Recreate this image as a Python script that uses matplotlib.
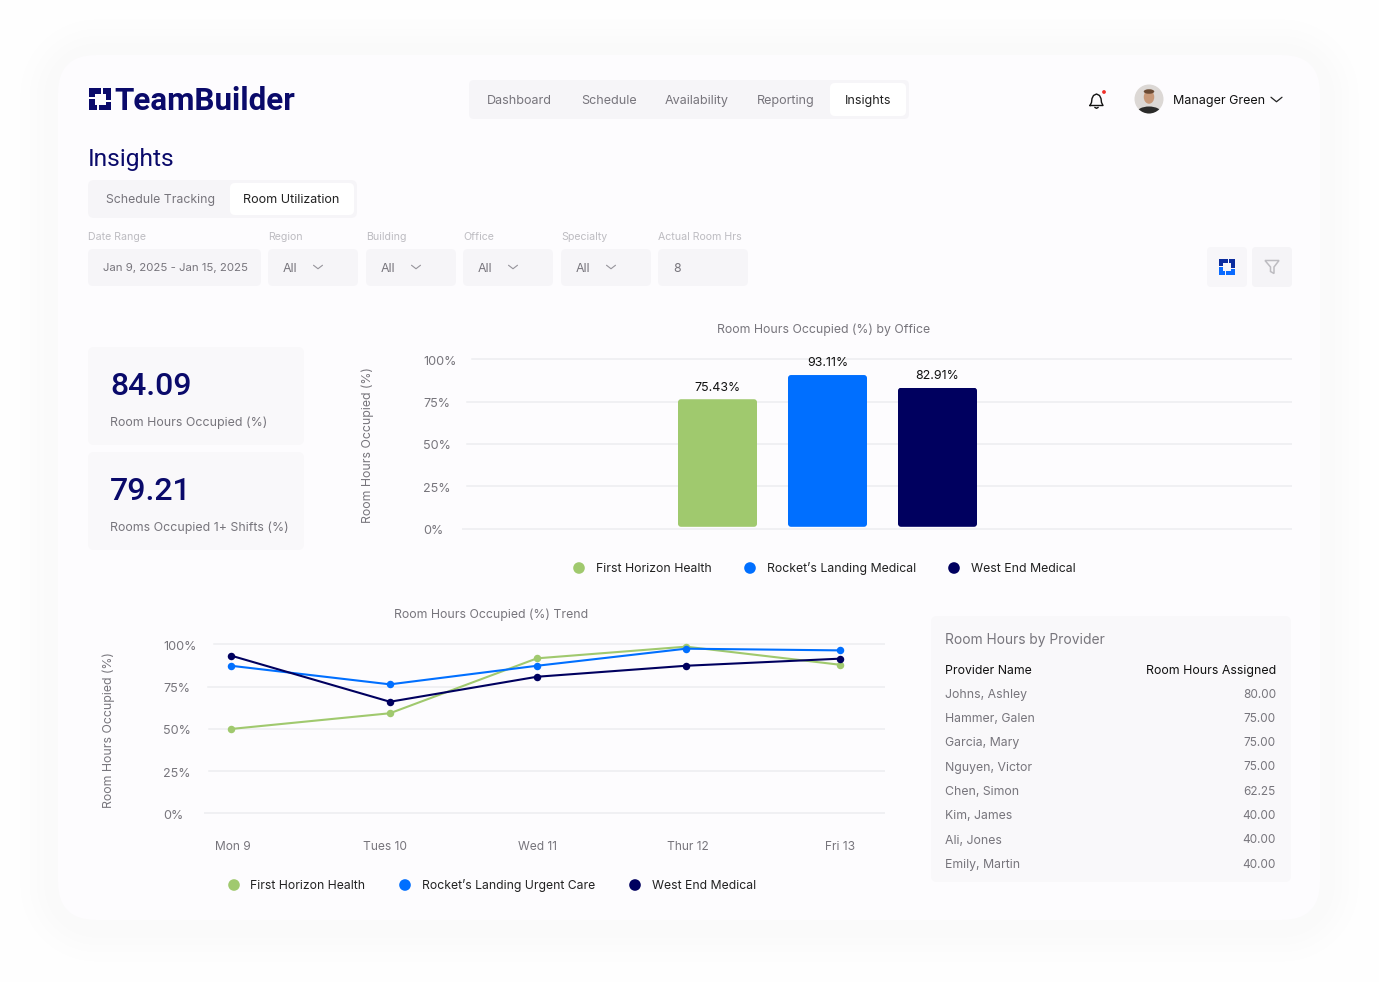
import numpy as np
import matplotlib
matplotlib.use("Agg")
import matplotlib.pyplot as plt
from matplotlib.patches import FancyBboxPatch, Circle, Polygon, Ellipse
from matplotlib.transforms import ScaledTranslation

plt.rcParams['font.family'] = ['Inter', 'DejaVu Sans']

# ---------- data ----------
nav_items = ["Dashboard", "Schedule", "Availability", "Reporting", "Insights"]
tabs = ["Schedule Tracking", "Room Utilization"]
filter_labels = ["Date Range", "Region", "Building", "Office", "Specialty", "Actual Room Hrs"]
filter_values = ["Jan 9, 2025 - Jan 15, 2025", "All", "All", "All", "All", "8"]

kpi_values = ["84.09", "79.21"]
kpi_labels = ["Room Hours Occupied (%)", "Rooms Occupied 1+ Shifts (%)"]

offices = ["First Horizon Health", "Rocket\u2019s Landing Medical", "West End Medical"]
bar_heights = [76.4, 90.7, 83.2]
bar_labels = ["75.43%", "93.11%", "82.91%"]
pct_ticks = [0, 25, 50, 75, 100]
pct_labels = ["0%", "25%", "50%", "75%", "100%"]

days = ["Mon 9", "Tues 10", "Wed 11", "Thur 12", "Fri 13"]
day_ticks = [0.013, 1.011, 2.01, 3.0, 4.0]
day_points = [0.0, 1.044, 2.01, 2.988, 4.0]
trend_first_horizon = [49.9, 59.2, 91.7, 98.6, 87.9]
trend_rockets = [87.3, 76.3, 87.3, 97.4, 96.4]
trend_west_end = [93.3, 66.0, 80.8, 87.3, 91.5]
trend_names = ["First Horizon Health", "Rocket\u2019s Landing Urgent Care", "West End Medical"]

providers = ["Johns, Ashley", "Hammer, Galen", "Garcia, Mary", "Nguyen, Victor",
             "Chen, Simon", "Kim, James", "Ali, Jones", "Emily, Martin"]
provider_hours = [80.00, 75.00, 75.00, 75.00, 62.25, 40.00, 40.00, 40.00]

# ---------- style ----------
W, H = 1379, 982
GREEN, BLUE, NAVY = "#A0C96E", "#006FFF", "#00005F"
INK = "#0A0A6A"
GREY = "#77757C"
PANEL = "#F9F8FA"
GRID = "#EDEDF0"

fig = plt.figure(figsize=(W / 100, H / 100), dpi=100, facecolor="white")
bg = fig.add_axes([0, 0, 1, 1], zorder=0)
bg.set_xlim(0, W)
bg.set_ylim(H, 0)
bg.axis("off")

# soft card shadow
yy, xx = np.mgrid[0:H, 0:W]
cx, cy, hw, hh, rad = 689, 490, 631, 433, 38
qx = np.abs(xx - cx) - (hw - rad)
qy = np.abs(yy - cy) - (hh - rad)
dist = np.hypot(np.maximum(qx, 0), np.maximum(qy, 0)) + np.minimum(np.maximum(qx, qy), 0) - rad
shade = 255 - 5.0 * np.exp(-(np.maximum(dist, 0) / 30.0) ** 2)
bg.imshow(np.dstack([shade] * 3).astype(np.uint8), extent=(0, W, H, 0), aspect="auto", zorder=0,
          interpolation="bilinear")
bg.set_xlim(0, W)
bg.set_ylim(H, 0)


def box(x0, y0, x1, y1, r, color, z=1, **kw):
    p = FancyBboxPatch((x0 + r, y0 + r), x1 - x0 - 2 * r, y1 - y0 - 2 * r,
                       boxstyle=f"round,pad={r},rounding_size={r}",
                       fc=color, ec="none", zorder=z, **kw)
    bg.add_patch(p)
    return p


def T(x, y, s, px=13, color=GREY, ha="left", weight="normal", **kw):
    return bg.text(x, y + 0.36 * px - 0.7, s, fontsize=px * 0.72, color=color, ha=ha, va="baseline",
                   fontweight=weight, zorder=5, **kw)


def chevron(x, y, w=5, h=3.5, color="#96949B", lw=0.8):
    bg.plot([x - w, x, x + w], [y - h / 2, y + h / 2, y - h / 2], color=color, lw=lw, zorder=5,
            solid_capstyle="round", solid_joinstyle="round")


def logo_mark(x, y, s, top, bottom):
    shapes = [
        ([(0, 0), (.55, 0), (.55, .25), (.25, .25), (.25, .42), (0, .42)], top),
        ([(.64, 0), (1, 0), (1, .55), (.75, .55), (.75, .25), (.64, .25)], top),
        ([(1, 1), (.45, 1), (.45, .75), (.75, .75), (.75, .62), (1, .62)], bottom),
        ([(.36, 1), (0, 1), (0, .48), (.25, .48), (.25, .75), (.36, .75)], bottom),
    ]
    for pts, c in shapes:
        bg.add_patch(Polygon([(x + a * s, y + b * s) for a, b in pts], fc=c, ec="none", zorder=5))


box(58, 55, 1320, 920, 38, "#FDFCFE")

# header
logo_mark(89, 88, 22, INK, INK)
T(114.5, 99.5, "TeamBuilder", 31.4, INK, weight="bold", family="Roboto")
box(469, 80, 909, 119, 5, "#F6F5F8")
box(830, 83, 906, 116, 5, "#FFFFFF", z=2)
for name, x, c in zip(nav_items, [519, 608.5, 697, 786, 868], [GREY] * 4 + ["#222222"]):
    T(x, 100, name, 12.6, c, ha="center")

# bell
bell_x = np.array([-6.5, -5, -4.5, -3, 0, 3, 4.5, 5, 6.5, -6.5]) + 1096.5
bell_y = np.array([5, 2, -2, -5, -6.5, -5, -2, 2, 5, 5]) + 100.5
bg.plot(bell_x, bell_y, color="#111111", lw=1.0, zorder=5, solid_joinstyle="round")
bg.plot([1095, 1096.5, 1098], [107.5, 108.3, 107.5], color="#111111", lw=1.0, zorder=5)
bg.add_patch(Circle((1104, 92), 1.9, fc="#F0302A", ec="none", zorder=6))

# avatar
av = Circle((1149, 99), 14.5, fc="#DCD8D5", ec="none", zorder=4)
bg.add_patch(av)
body = Ellipse((1149, 113), 25, 13, fc="#2B2B2A", ec="none", zorder=5)
face = Ellipse((1149, 97), 10.5, 13.5, fc="#C79878", ec="none", zorder=6)
hair = Ellipse((1149, 91.5), 10.5, 4.5, fc="#6A4A33", ec="none", zorder=7)
for part in (body, face, hair):
    bg.add_patch(part)
    part.set_clip_path(av)
T(1173, 100, "Manager Green", 12.5, "#111111")
chevron(1276.5, 99.5, 5.5, 4.5, "#222222", 0.9)

# title, tabs
T(88, 158, "Insights", 24.5, INK, weight="normal", family="Roboto")
box(88, 180, 357, 218, 6, "#F6F5F8")
box(230, 183, 354, 215, 5, "#FFFFFF", z=2)
T(161, 199.5, tabs[0], 12.3, GREY, ha="center")
T(291.5, 199.5, tabs[1], 12.6, "#222222", ha="center")

# filters
filter_boxes = [(88, 261), (268, 358), (366, 456), (463, 553), (561, 651), (658, 748)]
for i, (lab, val, (x0, x1)) in enumerate(zip(filter_labels, filter_values, filter_boxes)):
    T(x0, 237, lab, 10.6, "#BDBCC1")
    box(x0, 249, x1, 286, 5, "#F6F5F8")
    T(x0 + 15, 268, val, 11.4 if i == 0 else 12.4, GREY)
    if val == "All":
        chevron(x0 + 50, 267, 4.5, 3.5)

# icon buttons
box(1207, 247, 1247, 287, 4, "#F7F6F9")
box(1252, 247, 1292, 287, 4, "#F5F4F7")
logo_mark(1219, 259, 16, "#0B2C9E", "#0A6BFF")
bg.add_patch(Polygon([(1265, 260.5), (1279, 260.5), (1274, 267), (1274, 273.5), (1270.5, 271.5),
                      (1270.5, 267)], fc="none", ec="#BDBCC1", lw=1.1, zorder=5))

# KPI cards
for (y0, y1), val, lab in zip([(347, 445), (452, 550)], kpi_values, kpi_labels):
    box(88, y0, 304, y1, 6, PANEL)
    bg.text(110, y0 + 48, val, fontsize=32 * 0.72, color=INK, ha="left", va="baseline",
            fontweight="medium", family="Roboto", zorder=5)
    T(110, y0 + 75.5, lab, 12.4, GREY)

# ---------- bar chart ----------
nudge = ScaledTranslation(0, -1 / 100, fig.dpi_scale_trans)
bx0, by0, bx1, by1 = 462, 340, 1292, 535
ax = fig.add_axes([bx0 / W, 1 - by1 / H, (bx1 - bx0) / W, (by1 - by0) / H], zorder=2)
ax.patch.set_alpha(0)
for s in ax.spines.values():
    s.set_visible(False)
x_scale, y_scale = 110.0, 1.692
ax.set_xlim((bx0 - 717.5) / x_scale, (bx1 - 717.5) / x_scale)
ax.set_ylim((528.5 - by1) / y_scale, (528.5 - by0) / y_scale)
for v, start in zip(pct_ticks, [0.0, 5 / 830, 5 / 830, 5 / 830, 10 / 830]):
    ax.axhline(v, xmin=start, xmax=1, color=GRID, lw=1.1, zorder=1)
ax.set_yticks(pct_ticks, pct_labels, fontsize=12.6 * 0.72, color=GREY)
ax.tick_params(axis="y", length=0, pad=(462 - 423) * 0.72)
for t in ax.get_yticklabels():
    t.set_ha("left")
    t.set_transform(t.get_transform() + nudge)
ax.set_xticks([])
bar_base = 1.0
xs = np.arange(len(offices))
bars = ax.bar(xs, np.array(bar_heights) - bar_base, bottom=bar_base, width=79 / 110,
              color=[GREEN, BLUE, NAVY], zorder=3)
for rect, lab in zip(bars, bar_labels):
    clip = FancyBboxPatch((rect.get_x(), rect.get_y()), rect.get_width(), rect.get_height(),
                          boxstyle=f"round,pad=0,rounding_size={3 / x_scale}",
                          mutation_aspect=x_scale / y_scale, transform=ax.transData)
    rect.set_clip_path(clip)
    ax.annotate(lab, (rect.get_x() + rect.get_width() / 2, rect.get_y() + rect.get_height()),
                xytext=(0, 11.7 * 0.72), textcoords="offset points", ha="center", va="center",
                fontsize=12.4 * 0.72, color="#111111", zorder=4)
T(824, 329, "Room Hours Occupied (%) by Office", 12.3, GREY, ha="center")
bg.text(368, 445, "Room Hours Occupied (%)", fontsize=12.3 * 0.72, color=GREY, rotation=90,
        ha="center", va="center", zorder=5, rotation_mode="anchor")
for name, c, dx, tx in zip(offices, [GREEN, BLUE, NAVY], [579, 750, 954], [596, 767, 971]):
    bg.add_patch(Circle((dx, 568), 5.8, fc=c, ec="none", zorder=5))
    T(tx, 568, name, 12.3, "#222222")

# ---------- line chart ----------
lx0, ly0, lx1, ly1 = 204, 630, 885, 825
ax2 = fig.add_axes([lx0 / W, 1 - ly1 / H, (lx1 - lx0) / W, (ly1 - ly0) / H], zorder=2)
ax2.patch.set_alpha(0)
for s in ax2.spines.values():
    s.set_visible(False)
lx_scale, ly_scale = 152.25, 1.69
ax2.set_xlim((lx0 - 231) / lx_scale, (lx1 - 231) / lx_scale)
ax2.set_ylim((813.3 - ly1) / ly_scale, (813.3 - ly0) / ly_scale)
for v, start in zip(pct_ticks, [0.0, 5 / 681, 5 / 681, 4 / 681, 10 / 681]):
    ax2.axhline(v, xmin=start, xmax=1, color=GRID, lw=1.1, zorder=1)
ax2.set_yticks(pct_ticks, pct_labels, fontsize=12.6 * 0.72, color=GREY)
ax2.tick_params(axis="y", length=0, pad=(204 - 163.5) * 0.72)
for t in ax2.get_yticklabels():
    t.set_ha("left")
    t.set_transform(t.get_transform() + nudge)
ax2.set_xticks(day_ticks, days, fontsize=12.0 * 0.72, color=GREY)
ax2.tick_params(axis="x", length=0, pad=11.8)
for series, c in zip([trend_first_horizon, trend_rockets, trend_west_end], [GREEN, BLUE, NAVY]):
    ax2.plot(day_points, series, color=c, lw=1.5, marker="o", ms=5.4, mew=0, zorder=3, clip_on=False)
T(491.5, 614, "Room Hours Occupied (%) Trend", 12.3, GREY, ha="center")
bg.text(109, 730, "Room Hours Occupied (%)", fontsize=12.3 * 0.72, color=GREY, rotation=90,
        ha="center", va="center", zorder=5, rotation_mode="anchor")
for name, c, dx, tx in zip(trend_names, [GREEN, BLUE, NAVY], [234, 405, 635], [250.5, 421.5, 651.5]):
    bg.add_patch(Circle((dx, 885), 5.8, fc=c, ec="none", zorder=5))
    T(tx, 885, name, 12.2, "#222222")

# ---------- provider table ----------
box(931, 616, 1291, 882, 6, PANEL)
T(945, 639.5, "Room Hours by Provider", 13.8, GREY)
T(945, 670, "Provider Name", 12.3, "#111111")
T(1276, 670, "Room Hours Assigned", 12.4, "#111111", ha="right")
for i, (name, hrs) in enumerate(zip(providers, provider_hours)):
    y = 694 + i * 24.3
    T(945, y, name, 12.3, GREY)
    T(1276, y, f"{hrs:.2f}", 11.8, GREY, ha="right")

fig.savefig("out.png", dpi=100, facecolor="white")
